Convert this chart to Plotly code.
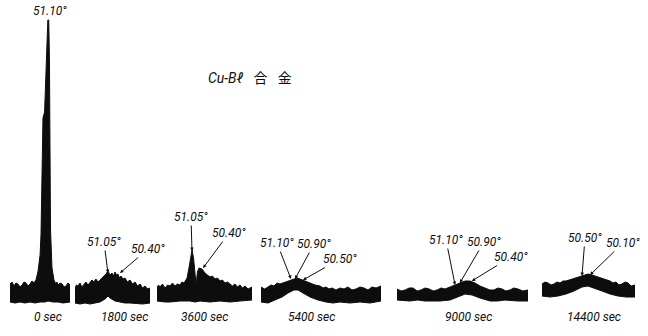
import plotly.graph_objects as go

# ---- data: 2-theta (deg) vs. diffracted intensity (arbitrary units) ----
times = ["0 sec", "1800 sec", "3600 sec", "5400 sec", "9000 sec", "14400 sec"]

# 0 sec
p0_up_x = [53.21, 53.10, 52.99, 52.88, 52.77, 52.66, 52.54, 52.43, 52.32, 52.21,
           52.10, 51.99, 51.88, 51.77, 51.66, 51.54, 51.49, 51.43, 51.41, 51.38,
           51.29, 51.21, 51.16, 51.11, 51.06, 51.02, 50.99, 50.96, 50.88, 50.77,
           50.66, 50.60, 50.54, 50.43, 50.32, 50.21, 50.10, 49.99, 49.88]
p0_up_y = [52, 54, 50, 53, 52, 49, 51, 54, 53, 50,
           52, 55, 53, 56, 64, 81, 101, 176, 211, 218,
           224, 266, 306, 316, 316, 276, 186, 106, 68, 56,
           52, 54, 51, 53, 52, 49, 50, 53, 51]
p0_lo_x = [53.21, 52.93, 52.66, 52.38, 52.10, 51.82, 51.54, 51.27, 51.10, 50.82, 50.54, 50.27, 49.88]
p0_lo_y = [34, 33, 34, 33, 34, 33, 34, 34, 35, 34, 34, 33, 34]

# 1800 sec
p1_up_x = [52.83, 52.75, 52.67, 52.56, 52.46, 52.35, 52.24, 52.13, 52.02, 51.91,
           51.81, 51.70, 51.59, 51.43, 51.27, 51.16, 51.05, 50.94, 50.83, 50.75,
           50.67, 50.59, 50.51, 50.43, 50.35, 50.24, 50.13, 50.00, 49.86, 49.72,
           49.59, 49.45, 49.32, 49.18, 49.05, 48.91, 48.78]
p1_up_y = [48, 51, 50, 53, 49, 52, 54, 51, 53, 56,
           54, 57, 54, 57, 59, 62, 65, 61, 63, 60,
           64, 61, 62, 58, 60, 57, 58, 54, 56, 52,
           54, 50, 52, 48, 50, 47, 48]
p1_lo_x = [52.83, 52.56, 52.29, 52.02, 51.75, 51.48, 51.21, 51.05, 50.94, 50.67, 50.40, 50.13,
           49.86, 49.59, 49.18, 48.78]
p1_lo_y = [33, 32, 33, 32, 33, 34, 37, 40, 38, 35, 34, 33, 33, 33, 32, 33]

# 3600 sec
p2_up_x = [53.11, 53.02, 52.93, 52.79, 52.64, 52.49, 52.34, 52.20, 52.05, 51.90,
           51.76, 51.64, 51.52, 51.34, 51.23, 51.11, 51.05, 50.96, 50.87, 50.81,
           50.73, 50.64, 50.46, 50.29, 50.14, 49.99, 49.85, 49.70, 49.55, 49.40,
           49.26, 49.11, 48.96, 48.81, 48.67, 48.52, 48.38, 48.23, 48.08, 47.93,
           47.75, 47.52]
p2_up_y = [48, 51, 49, 52, 48, 51, 50, 53, 50, 52,
           51, 54, 53, 58, 68, 81, 86, 78, 56, 51,
           64, 68, 67, 63, 61, 59, 60, 57, 58, 55,
           56, 53, 54, 52, 50, 52, 49, 51, 48, 50,
           47, 49]
p2_lo_x = [53.11, 52.64, 52.34, 51.76, 51.17, 50.87, 50.58, 49.99, 49.40, 48.81, 48.23, 47.52]
p2_lo_y = [35, 34, 34, 35, 35, 34, 35, 34, 35, 34, 35, 36]

# 5400 sec
p3_up_x = [52.60, 52.42, 52.25, 52.10, 51.95, 51.80, 51.65, 51.40, 51.15, 50.95,
           50.80, 50.65, 50.40, 50.15, 49.90, 49.65, 49.50, 49.35, 49.20, 49.05,
           48.85, 48.65, 48.45, 48.25, 48.05, 47.85, 47.65, 47.45, 47.25, 47.05,
           46.85, 46.60]
p3_up_y = [49, 47, 49, 51, 50, 53, 52, 54, 56, 57,
           58, 57, 55, 53, 51, 50, 48, 49, 47, 48,
           46, 48, 47, 49, 46, 47, 49, 48, 46, 49,
           48, 50]
p3_lo_x = [52.60, 52.25, 51.90, 51.55, 51.25, 50.95, 50.75, 50.50, 50.15, 49.75,
           49.35, 49.00, 48.65, 48.15, 47.65, 47.15, 46.60]
p3_lo_y = [34, 33, 36, 39, 43, 46, 46, 43, 39, 36, 34, 33, 34, 33, 34, 33, 35]

# 9000 sec
p4_up_x = [53.52, 53.35, 53.18, 53.01, 52.85, 52.68, 52.52, 52.35, 52.18, 52.01,
           51.85, 51.68, 51.52, 51.31, 51.10, 50.89, 50.68, 50.48, 50.27, 50.06,
           49.81, 49.65, 49.48, 49.31, 49.14, 48.98, 48.81, 48.65, 48.48, 48.27,
           48.06]
p4_up_y = [47, 45, 46, 48, 48, 45, 46, 48, 47, 45,
           46, 48, 47, 49, 51, 53, 55, 55, 53, 50,
           48, 46, 46, 48, 47, 45, 46, 48, 47, 45,
           46]
p4_lo_x = [53.52, 52.98, 52.66, 52.35, 51.73, 51.31, 50.98, 50.68, 50.39, 50.06,
           49.64, 49.33, 49.02, 48.50, 48.06]
p4_lo_y = [36, 35, 36, 35, 35, 36, 39, 42, 41, 38, 35, 35, 36, 35, 35]

# 14400 sec
p5_up_x = [52.50, 52.35, 52.20, 52.05, 51.90, 51.75, 51.60, 51.45, 51.30, 51.00,
           50.70, 50.40, 50.20, 50.00, 49.70, 49.40, 49.10, 48.95, 48.80, 48.65,
           48.50, 48.35, 48.20, 48.05, 47.85]
p5_up_y = [52, 54, 53, 51, 52, 54, 53, 55, 55, 57,
           59, 61, 62, 61, 59, 57, 55, 53, 54, 51,
           52, 54, 53, 50, 51]
p5_lo_x = [52.50, 52.10, 51.70, 51.30, 50.90, 50.50, 50.20, 49.90, 49.50, 49.10, 48.70, 48.30, 47.85]
p5_lo_y = [40, 39, 40, 42, 45, 49, 50, 48, 45, 42, 40, 39, 39]

panels = [
    (p0_up_x, p0_up_y, p0_lo_x, p0_lo_y),
    (p1_up_x, p1_up_y, p1_lo_x, p1_lo_y),
    (p2_up_x, p2_up_y, p2_lo_x, p2_lo_y),
    (p3_up_x, p3_up_y, p3_lo_x, p3_lo_y),
    (p4_up_x, p4_up_y, p4_lo_x, p4_lo_y),
    (p5_up_x, p5_up_y, p5_lo_x, p5_lo_y),
]

# peak labels: (panel, angle, intensity at arrow tip)
peak_labels = [
    (1, 51.05, 63), (1, 50.40, 63),
    (2, 51.05, 85), (2, 50.40, 68),
    (3, 51.10, 57), (3, 50.90, 57), (3, 50.50, 56),
    (4, 51.10, 51), (4, 50.90, 53), (4, 50.40, 55),
    (5, 50.50, 60), (5, 50.10, 61),
]

# ---- layout / styling ----
W, H = 648, 336
px_domains = [(10, 70), (75, 150), (157, 252), (261, 381), (397, 528), (542, 635)]
x_ranges = [(53.21, 49.88), (52.83, 48.78), (53.11, 47.52), (52.60, 46.60), (53.52, 48.06), (52.50, 47.85)]
label_offsets = [(-4, -31), (28, -24), (-1, -34), (26, -35), (-14, -36), (19, -35), (37, -21),
                 (-9, -45), (24, -41), (39, -24), (3, -38), (33, -32)]
time_label_px = [48, 124, 204, 311, 468, 594]

INK = "#0d0d0d"
NUM_FONT = dict(family="Roboto, Liberation Sans, sans-serif", size=12, color=INK, style="italic")

fig = go.Figure()
layout = dict(
    width=W, height=H, margin=dict(l=0, r=0, t=0, b=0),
    paper_bgcolor="white", plot_bgcolor="white", showlegend=False,
    yaxis=dict(range=[0, H], domain=[0, 1], visible=False, fixedrange=True),
)
annotations = []
for i, (ux, uy, lx, ly) in enumerate(panels):
    xa = "x" if i == 0 else f"x{i+1}"
    key = "xaxis" if i == 0 else f"xaxis{i+1}"
    fig.add_trace(go.Scatter(
        x=ux + lx[::-1], y=uy + ly[::-1], xaxis=xa, yaxis="y",
        fill="toself", fillcolor=INK, mode="lines",
        line=dict(color=INK, width=1), hoverinfo="skip"))
    d0, d1 = px_domains[i]
    layout[key] = dict(domain=[d0 / W, d1 / W], range=list(x_ranges[i]),
                       visible=False, anchor="y", fixedrange=True)
    annotations.append(dict(xref="paper", yref="paper", x=time_label_px[i] / W, y=(H - 317) / H,
                            text=times[i], showarrow=False, xanchor="center", yanchor="middle",
                            font=NUM_FONT))

for (pi, ang, inten), (ax, ay) in zip(peak_labels, label_offsets):
    xa = "x" if pi == 0 else f"x{pi+1}"
    annotations.append(dict(xref=xa, yref="y", x=ang, y=inten, text=f"{ang:.2f}°",
                            showarrow=True, arrowhead=2, arrowsize=0.7, arrowwidth=1,
                            arrowcolor=INK, ax=ax, ay=ay, standoff=0, startstandoff=0,
                            font=NUM_FONT))

# main peak of the as-quenched sample
annotations.append(dict(xref="x", yref="y", x=51.10, y=325, xshift=2, text="51.10°",
                        showarrow=False, font=NUM_FONT))
# title
annotations.append(dict(xref="paper", yref="paper", x=250 / W, y=(H - 68) / H,
                        text="<i>Cu-Bℓ</i>   合   金", showarrow=False,
                        font=dict(family="Roboto, Noto Sans CJK JP, sans-serif",
                                  size=14, color=INK)))
layout["annotations"] = annotations
fig.update_layout(**layout)
fig.write_html("out.html")
